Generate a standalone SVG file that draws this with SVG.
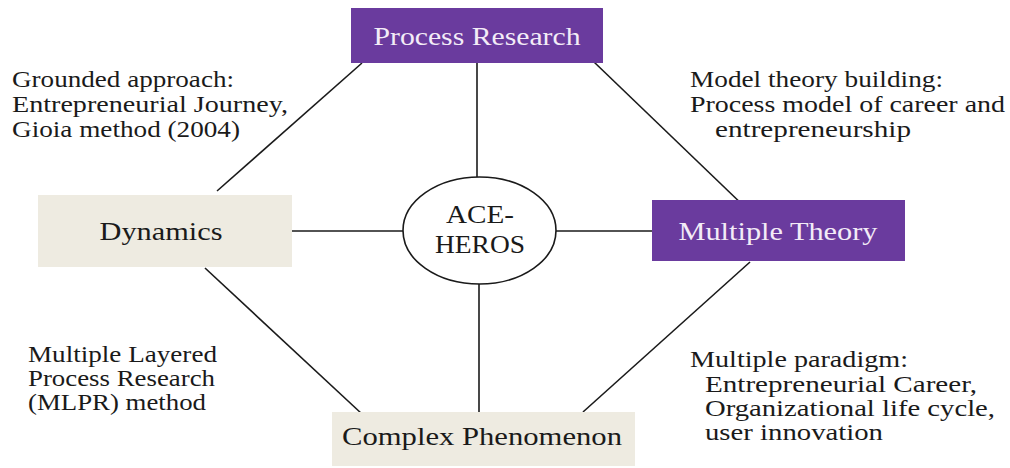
<svg xmlns="http://www.w3.org/2000/svg" width="1010" height="468" viewBox="0 0 1010 468">
<style>
.bg{fill:#ffffff}
.purple{fill:#6a3b9e}
.beige{fill:#eeebe1}
.lbl{font-family:"Liberation Serif","Times New Roman",serif;font-size:25px;fill:#1a1a1a}
.wlbl{font-family:"Liberation Serif","Times New Roman",serif;font-size:25px;fill:#f3ecf7}
.note{font-family:"Liberation Serif","Times New Roman",serif;font-size:22.5px;fill:#1a1a1a}
.conn line{stroke:#1a1a1a;stroke-width:1.6}
</style>
<rect class="bg" x="0" y="0" width="1010" height="468"/>
<g id="connectors" class="conn">
<line x1="477" y1="63" x2="477" y2="177"/>
<line x1="479" y1="284" x2="479" y2="412"/>
<line x1="292" y1="231" x2="403" y2="231"/>
<line x1="556" y1="231" x2="652" y2="231"/>
<line x1="217" y1="191" x2="362" y2="63"/>
<line x1="594" y1="62" x2="748" y2="210"/>
<line x1="205" y1="268" x2="362" y2="414"/>
<line x1="750" y1="262" x2="583" y2="412"/>
</g>
<g id="process-research">
<rect class="purple" x="351" y="8" width="252" height="55"/>
<text class="wlbl" x="477" y="45" text-anchor="middle" textLength="207" lengthAdjust="spacingAndGlyphs">Process Research</text>
</g>
<g id="dynamics">
<rect class="beige" x="38" y="195" width="254" height="72"/>
<text class="lbl" x="161" y="240" text-anchor="middle" textLength="123" lengthAdjust="spacingAndGlyphs">Dynamics</text>
</g>
<g id="multiple-theory">
<rect class="purple" x="652" y="200" width="253" height="61"/>
<text class="wlbl" x="778" y="240" text-anchor="middle" textLength="199" lengthAdjust="spacingAndGlyphs">Multiple Theory</text>
</g>
<g id="complex-phenomenon">
<rect class="beige" x="332" y="412" width="303" height="54"/>
<text class="lbl" x="482" y="445" text-anchor="middle" textLength="280" lengthAdjust="spacingAndGlyphs">Complex Phenomenon</text>
</g>
<g id="ace-heros">
<ellipse cx="479.5" cy="230.5" rx="76.5" ry="53.5" fill="#ffffff" stroke="#1a1a1a" stroke-width="1.6"/>
<text class="lbl" x="480" y="223" text-anchor="middle" textLength="68" lengthAdjust="spacingAndGlyphs">ACE-</text>
<text class="lbl" x="480" y="253" text-anchor="middle" textLength="90" lengthAdjust="spacingAndGlyphs">HEROS</text>
</g>
<g id="note-grounded">
<text class="note" x="12" y="87" textLength="222" lengthAdjust="spacingAndGlyphs">Grounded approach:</text>
<text class="note" x="12" y="112" textLength="276" lengthAdjust="spacingAndGlyphs">Entrepreneurial Journey,</text>
<text class="note" x="12" y="137" textLength="228" lengthAdjust="spacingAndGlyphs">Gioia method (2004)</text>
</g>
<g id="note-model">
<text class="note" x="690" y="87" textLength="253" lengthAdjust="spacingAndGlyphs">Model theory building:</text>
<text class="note" x="690" y="112" textLength="315" lengthAdjust="spacingAndGlyphs">Process model of career and</text>
<text class="note" x="715" y="137" textLength="196" lengthAdjust="spacingAndGlyphs">entrepreneurship</text>
</g>
<g id="note-mlpr">
<text class="note" x="28" y="362" textLength="189" lengthAdjust="spacingAndGlyphs">Multiple Layered</text>
<text class="note" x="28" y="386" textLength="187" lengthAdjust="spacingAndGlyphs">Process Research</text>
<text class="note" x="28" y="410" textLength="178" lengthAdjust="spacingAndGlyphs">(MLPR) method</text>
</g>
<g id="note-paradigm">
<text class="note" x="690" y="367" textLength="218" lengthAdjust="spacingAndGlyphs">Multiple paradigm:</text>
<text class="note" x="705" y="392" textLength="272" lengthAdjust="spacingAndGlyphs">Entrepreneurial Career,</text>
<text class="note" x="705" y="416" textLength="290" lengthAdjust="spacingAndGlyphs">Organizational life cycle,</text>
<text class="note" x="705" y="440" textLength="178" lengthAdjust="spacingAndGlyphs">user innovation</text>
</g>
</svg>
